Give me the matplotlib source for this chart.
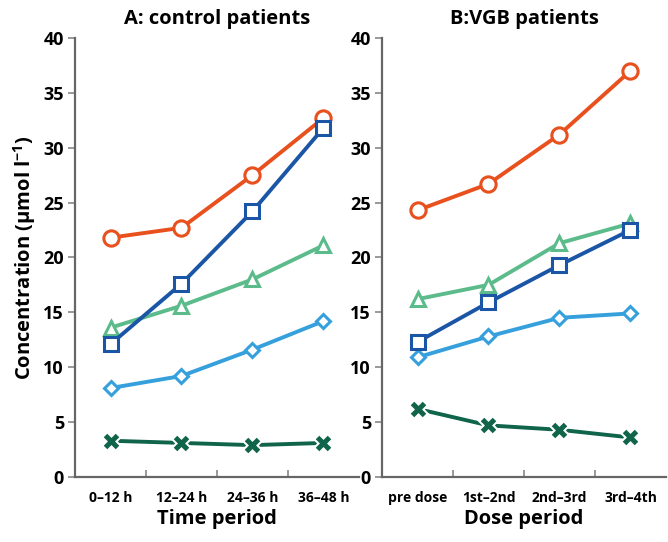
import matplotlib
matplotlib.use("Agg")
import matplotlib.pyplot as plt

plt.rcParams["font.family"] = ["Open Sans", "DejaVu Sans"]
plt.rcParams["mathtext.fontset"] = "custom"
plt.rcParams["mathtext.rm"] = "Open Sans:bold"
plt.rcParams["mathtext.default"] = "rm"

time_labels = ["0\u201312 h", "12\u201324 h", "24\u201336 h", "36\u201348 h"]
dose_labels = ["pre dose", "1st\u20132nd", "2nd\u20133rd", "3rd\u20134th"]

# panel A: control patients
a_circle = [21.8, 22.7, 27.5, 32.7]
a_square = [12.1, 17.6, 24.2, 31.8]
a_triangle = [13.6, 15.6, 18.0, 21.1]
a_diamond = [8.1, 9.2, 11.6, 14.2]
a_cross = [3.3, 3.1, 2.9, 3.1]

# panel B: VGB patients
b_circle = [24.3, 26.7, 31.2, 37.0]
b_square = [12.3, 15.9, 19.3, 22.5]
b_triangle = [16.2, 17.5, 21.3, 23.1]
b_diamond = [10.9, 12.8, 14.5, 14.9]
b_cross = [6.2, 4.7, 4.3, 3.6]

styles = [
    ("triangle", "^", "#5cbb8b", 10),
    ("diamond", "D", "#35a0dc", 7.5),
    ("cross", "x", "#0f644a", 9),
    ("circle", "o", "#e8501e", 11),
    ("square", "s", "#1a55a6", 10),
]


def draw(ax, series, labels, title, xlabel):
    x = range(len(labels))
    for key, marker, color, ms in styles:
        vals = series[key]
        if marker == "x":
            ax.plot(x, vals, color=color, lw=2.8, zorder=3)
            ax.plot(x, vals, ls="none", marker=marker, ms=ms + 3, mec="white",
                    mew=6.5, zorder=3)
            ax.plot(x, vals, ls="none", marker=marker, ms=ms, mec=color,
                    mew=3.6, zorder=4)
        else:
            ax.plot(x, vals, color=color, lw=2.8, marker=marker, ms=ms,
                    mfc="white", mec=color, mew=2.2, zorder=3)
    ax.set_xlim(-0.5, 3.5)
    ax.set_ylim(0, 40)
    ax.set_yticks(range(0, 41, 5))
    ax.set_xticks(list(x))
    ax.set_xticklabels(labels, fontsize=10, fontweight="bold")
    ax.tick_params(axis="x", length=0, pad=10)
    ax.set_xticks([0.5, 1.5, 2.5], minor=True)
    ax.tick_params(axis="x", which="minor", direction="in", length=5,
                   width=1.2, color="#888888")
    ax.tick_params(axis="y", direction="out", length=5, width=1.2,
                   color="#888888", labelsize=13, pad=3)
    for t in ax.get_yticklabels():
        t.set_fontweight("bold")
    for s in ["top", "right"]:
        ax.spines[s].set_visible(False)
    for s in ["left", "bottom"]:
        ax.spines[s].set_color("#666666")
        ax.spines[s].set_linewidth(1.6)
    ax.set_title(title, fontsize=14.5, fontweight="bold", pad=10)
    ax.set_xlabel(xlabel, fontsize=14.5, fontweight="bold", labelpad=3)


fig = plt.figure(figsize=(6.68, 5.42), dpi=100)
ax1 = fig.add_axes([0.1123, 0.12, 0.425, 0.81])
ax2 = fig.add_axes([0.5719, 0.12, 0.425, 0.81])

draw(ax1, {"circle": a_circle, "square": a_square, "triangle": a_triangle,
           "diamond": a_diamond, "cross": a_cross},
     time_labels, "A: control patients", "Time period")
draw(ax2, {"circle": b_circle, "square": b_square, "triangle": b_triangle,
           "diamond": b_diamond, "cross": b_cross},
     dose_labels, "B:VGB patients", "Dose period")

ax1.set_ylabel("Concentration (\u00b5mol l$^{-1}$)", fontsize=14.5,
               fontweight="bold", labelpad=4)

fig.savefig("out.png", dpi=100)
